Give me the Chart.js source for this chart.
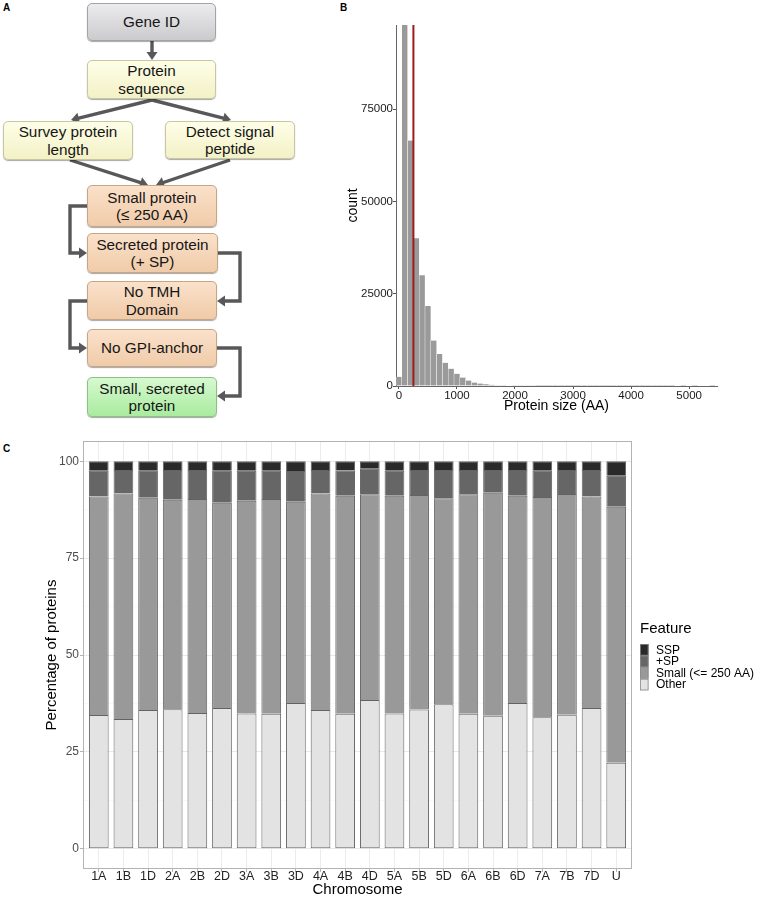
<!DOCTYPE html>
<html>
<head>
<meta charset="utf-8">
<script src="https://cdn.jsdelivr.net/npm/chart.js@4.4.1/dist/chart.umd.min.js"></script>
<style>
  body { margin: 0; background: #fff; font-family: "Liberation Sans", Arial, sans-serif; }
  #page { position: relative; width: 758px; height: 897px; overflow: hidden; }
  .tag { position: absolute; font-weight: bold; font-size: 10px; color: #000; }
  .box {
    position: absolute; box-sizing: border-box; border-radius: 5px; border: 1px solid;
    display: flex; align-items: center; justify-content: center; text-align: center;
    font-size: 15.3px; line-height: 17.5px; color: #161616;
    box-shadow: 0 1px 1px rgba(0,0,0,0.35);
  }
  .gray   { background: linear-gradient(#ececee, #cbcbce); border-color: #a3a3a6; }
  .yellow { background: linear-gradient(#fefee8, #f3f1c6); border-color: #c9c6a0; }
  .peach  { background: linear-gradient(#fae1ca, #f0cba9); border-color: #c7a688; }
  .green  { background: linear-gradient(#d6f9cf, #a9eb9f); border-color: #8fbe87; }
  canvas { position: absolute; }
</style>
</head>
<body>
<div id="page">
  <div class="tag" style="left:3px;top:2px">A</div>
  <div class="tag" style="left:340px;top:2px">B</div>
  <div class="tag" style="left:3px;top:443px">C</div>
  <svg id="arrows" width="300" height="430" style="position:absolute;left:0;top:0"></svg>
  <div id="flow"></div>
  <canvas id="histChart" width="418" height="420" style="left:340px;top:0"></canvas>
  <canvas id="featChart" width="758" height="467" style="left:0;top:430px"></canvas>
</div>
<script>
// ---- panel B: protein size histogram ----
var BIN_WIDTH = 100;
var CUTOFF_AA = 250;
var binCounts = [2500, 112000, 66500, 40000, 30000, 21700, 12300, 8700, 6300, 4700,
                 3300, 2300, 1500, 950, 650, 450, 320, 230, 170, 120,
                 90, 70, 50, 40, 30, 25, 20, 16, 13, 10,
                 8, 7, 6, 5, 4, 4, 3, 3, 2, 2,
                 2, 2, 1, 1, 1, 1, 1, 1, 0, 1,
                 0, 1, 0, 0, 1];
var sizeTicks = [0, 1000, 2000, 3000, 4000, 5000];
var countTicks = [0, 25000, 50000, 75000];

// ---- panel C: features per chromosome (%) ----
var chromosomes = ['1A','1B','1D','2A','2B','2D','3A','3B','3D','4A','4B','4D',
                   '5A','5B','5D','6A','6B','6D','7A','7B','7D','U'];
var otherPct = [34.5,33.5,35.8,36.0,35.0,36.3,34.9,34.8,37.6,35.8,34.8,38.4,
                34.9,35.9,37.3,34.8,34.3,37.6,33.9,34.6,36.3,22.2];
var smallPct = [56.4,58.2,54.8,54.1,55.3,53.0,54.9,55.5,52.0,55.9,56.3,53.1,
                56.2,55.4,53.2,56.7,57.6,53.5,56.9,57.0,54.6,66.1];
var plusSpPct = [6.7,6.1,7.0,7.7,7.5,8.3,7.8,7.3,7.9,6.1,6.6,6.6,
                 6.5,6.5,7.3,6.3,5.9,6.7,6.8,6.2,6.9,8.0];
var sspPct = [2.4,2.2,2.4,2.2,2.2,2.4,2.4,2.4,2.5,2.2,2.3,1.9,
              2.4,2.2,2.2,2.2,2.2,2.2,2.4,2.2,2.2,3.7];
var pctTicks = [0, 12.5, 25, 37.5, 50, 62.5, 75, 87.5, 100];

// ---- panel A: flowchart ----
var boxes = [
  { text: 'Gene ID', cls: 'gray', x: 87, y: 3, w: 129, h: 38 },
  { text: 'Protein<br>sequence', cls: 'yellow', x: 87, y: 60, w: 129, h: 39 },
  { text: 'Survey protein<br>length', cls: 'yellow', x: 3, y: 121, w: 130, h: 39 },
  { text: 'Detect signal<br>peptide', cls: 'yellow', x: 165, y: 121, w: 130, h: 38 },
  { text: 'Small protein<br>(\u2264 250 AA)', cls: 'peach', x: 87, y: 185, w: 130, h: 42 },
  { text: 'Secreted protein<br>(+ SP)', cls: 'peach', x: 87, y: 233, w: 131, h: 40 },
  { text: 'No TMH<br>Domain', cls: 'peach', x: 87, y: 281, w: 130, h: 39 },
  { text: 'No GPI-anchor', cls: 'peach', x: 87, y: 329, w: 130, h: 38 },
  { text: 'Small, secreted<br>protein', cls: 'green', x: 87, y: 377, w: 130, h: 40 }
];
var links = [
  [[152, 41], [152, 60]],
  [[152, 100], [71, 120]],
  [[152, 100], [231, 120]],
  [[70, 160], [148, 185]],
  [[230, 160], [156, 185]],
  [[87, 206], [70, 206], [70, 253], [87, 253]],
  [[218, 253], [240, 253], [240, 301], [217, 301]],
  [[87, 301], [70, 301], [70, 348], [87, 348]],
  [[217, 348], [240, 348], [240, 396], [217, 396]]
];

var flow = document.getElementById('flow');
boxes.forEach(function (b) {
  var d = document.createElement('div');
  d.className = 'box ' + b.cls;
  d.style.left = b.x + 'px'; d.style.top = b.y + 'px';
  d.style.width = b.w + 'px'; d.style.height = b.h + 'px';
  d.innerHTML = b.text;
  flow.appendChild(d);
});

var svg = document.getElementById('arrows');
var NS = 'http://www.w3.org/2000/svg';
var ARROW = '#58585a';
links.forEach(function (pts) {
  var n = pts.length;
  var tip = pts[n - 1], prev = pts[n - 2];
  var dx = tip[0] - prev[0], dy = tip[1] - prev[1];
  var len = Math.sqrt(dx * dx + dy * dy);
  var ux = dx / len, uy = dy / len;
  var headLen = 8, headHalf = 5.5;
  var base = [tip[0] - ux * headLen, tip[1] - uy * headLen];
  var line = pts.slice(0, n - 1).concat([[base[0] + ux, base[1] + uy]]);
  var pl = document.createElementNS(NS, 'polyline');
  pl.setAttribute('points', line.map(function (p) { return p.join(','); }).join(' '));
  pl.setAttribute('fill', 'none');
  pl.setAttribute('stroke', ARROW);
  pl.setAttribute('stroke-width', '3.4');
  pl.setAttribute('stroke-linejoin', 'miter');
  svg.appendChild(pl);
  var head = document.createElementNS(NS, 'polygon');
  head.setAttribute('points', [
    tip,
    [base[0] - uy * headHalf, base[1] + ux * headHalf],
    [base[0] + uy * headHalf, base[1] - ux * headHalf]
  ].map(function (p) { return p.join(','); }).join(' '));
  head.setAttribute('fill', ARROW);
  svg.appendChild(head);
});

// ---- chart B ----
var histPoints = binCounts.map(function (c, i) { return { x: i * BIN_WIDTH, y: c }; });

var cutoffLine = {
  id: 'cutoffLine',
  afterDatasetsDraw: function (chart) {
    var ctx = chart.ctx, a = chart.chartArea;
    var x = chart.scales.x.getPixelForValue(CUTOFF_AA);
    ctx.save();
    ctx.strokeStyle = '#9e1b1b';
    ctx.lineWidth = 2;
    ctx.beginPath();
    ctx.moveTo(x, a.top);
    ctx.lineTo(x, a.bottom);
    ctx.stroke();
    ctx.restore();
  }
};

new Chart(document.getElementById('histChart'), {
  type: 'bar',
  data: {
    datasets: [{
      data: histPoints,
      backgroundColor: '#9a9a9a',
      borderColor: 'rgba(255,255,255,0.85)',
      borderWidth: { left: 0.5, right: 0.5, top: 0, bottom: 0 },
      barPercentage: 1,
      categoryPercentage: 1
    }]
  },
  options: {
    responsive: false,
    animation: false,
    devicePixelRatio: 1,
    layout: { padding: { top: 25, right: 41, left: 0, bottom: 0 } },
    plugins: { legend: { display: false }, tooltip: { enabled: false } },
    scales: {
      x: {
        type: 'linear', min: -50, max: 5480, offset: false,
        afterBuildTicks: function (s) { s.ticks = sizeTicks.map(function (v) { return { value: v }; }); },
        afterFit: function (s) { s.height = 34; },
        grid: { drawOnChartArea: false, offset: false, tickLength: 3, color: '#555' },
        border: { display: true, color: '#666', width: 1 },
        ticks: { color: '#1a1a1a', font: { size: 11.5, family: 'Liberation Sans' }, padding: 0, maxRotation: 0,
                 autoSkip: false, callback: function (v) { return String(v); } },
        title: { display: true, text: 'Protein size (AA)', color: '#000',
                 font: { size: 14, family: 'Liberation Sans' }, padding: { top: 0, bottom: 5.6 } }
      },
      y: {
        min: 0, max: 97800,
        afterBuildTicks: function (s) { s.ticks = countTicks.map(function (v) { return { value: v }; }); },
        afterFit: function (s) { s.width = 56; },
        grid: { drawOnChartArea: false, tickLength: 3, color: '#555' },
        border: { display: true, color: '#666', width: 1 },
        ticks: { color: '#1a1a1a', font: { size: 11.5, family: 'Liberation Sans' }, padding: 0,
                 callback: function (v) { return String(v); } },
        title: { display: true, text: 'count', color: '#000',
                 font: { size: 14, family: 'Liberation Sans' }, padding: { top: 4.6, bottom: 0 } }
      }
    }
  },
  plugins: [cutoffLine]
});

// ---- chart C ----
function pts(arr) { return arr.map(function (v, i) { return { x: i, y: v }; }); }

var panelAndLegend = {
  id: 'panelAndLegend',
  afterDraw: function (chart) {
    var ctx = chart.ctx, a = chart.chartArea;
    ctx.save();
    ctx.strokeStyle = '#b3b3b3';
    ctx.lineWidth = 1;
    ctx.strokeRect(a.left - 0.5, a.top - 0.5, a.right - a.left + 1, a.bottom - a.top + 1);
    // legend, top entry first
    var lx = 640, ly = 214, kw = 8.5, kh = 11.6;
    ctx.fillStyle = '#000';
    ctx.font = '15px "Liberation Sans"';
    ctx.textBaseline = 'middle';
    ctx.fillText('Feature', lx, 199);
    ctx.font = '12px "Liberation Sans"';
    var ds = chart.data.datasets.slice().reverse();
    ds.forEach(function (d, i) {
      var y = ly + i * kh;
      ctx.fillStyle = d.backgroundColor;
      ctx.fillRect(lx, y, kw, kh);
      ctx.strokeStyle = '#8a8a8a';
      ctx.lineWidth = 0.8;
      ctx.strokeRect(lx + 0.4, y + 0.4, kw - 0.8, kh - 0.8);
      ctx.fillStyle = '#000';
      ctx.fillText(d.label, lx + 16, y + kh / 2 + 0.5);
    });
    ctx.restore();
  }
};

// bottom segment gets a full outline, the stacked ones skip their bottom edge
var barStyle = { borderColor: '#636363', borderWidth: 1, barPercentage: 0.8, categoryPercentage: 1 };

new Chart(document.getElementById('featChart'), {
  type: 'bar',
  data: {
    datasets: [
      Object.assign({ label: 'Other', data: pts(otherPct), backgroundColor: '#e3e3e3', borderSkipped: false }, barStyle),
      Object.assign({ label: 'Small (<= 250 AA)', data: pts(smallPct), backgroundColor: '#999999' }, barStyle),
      Object.assign({ label: '+SP', data: pts(plusSpPct), backgroundColor: '#666666' }, barStyle),
      Object.assign({ label: 'SSP', data: pts(sspPct), backgroundColor: '#2a2a2a' }, barStyle)
    ]
  },
  options: {
    responsive: false,
    animation: false,
    devicePixelRatio: 1,
    layout: { padding: { top: 12, right: 127, left: 0, bottom: 0 } },
    plugins: { legend: { display: false }, tooltip: { enabled: false } },
    scales: {
      x: {
        type: 'linear', stacked: true, min: -0.6, max: chromosomes.length - 0.4, offset: false,
        afterBuildTicks: function (s) { s.ticks = chromosomes.map(function (c, i) { return { value: i }; }); },
        afterFit: function (s) { s.height = 29; },
        grid: { color: '#ececec', lineWidth: 1, offset: false, tickLength: 4, tickColor: '#b3b3b3' },
        border: { display: false },
        ticks: { color: '#222', font: { size: 12.5, family: 'Liberation Sans', lineHeight: 1 }, padding: -2,
                 maxRotation: 0, autoSkip: false, callback: function (v) { return chromosomes[v]; } },
        title: { display: true, text: 'Chromosome', color: '#000',
                 font: { size: 15, family: 'Liberation Sans', lineHeight: 1 }, padding: { top: 0, bottom: 0 } }
      },
      y: {
        stacked: true, min: -5, max: 105,
        afterBuildTicks: function (s) { s.ticks = pctTicks.map(function (v) { return { value: v }; }); },
        afterFit: function (s) { s.width = 84; },
        grid: {
          color: function (c) { return c.tick && c.tick.value % 25 === 0 ? '#e9e9e9' : '#f5f5f5'; },
          lineWidth: function (c) { return c.tick && c.tick.value % 25 === 0 ? 1 : 0.6; },
          tickColor: function (c) { return c.tick && c.tick.value % 25 === 0 ? '#b3b3b3' : 'rgba(0,0,0,0)'; },
          tickLength: 4
        },
        border: { display: false },
        ticks: { color: '#4d4d4d', font: { size: 12, family: 'Liberation Sans' }, padding: 1,
                 callback: function (v) { return v % 25 === 0 ? String(v) : ''; } },
        title: { display: true, text: 'Percentage of proteins', color: '#000',
                 font: { size: 15, family: 'Liberation Sans', lineHeight: 1.2 }, padding: { top: 43, bottom: 0 } }
      }
    }
  },
  plugins: [panelAndLegend]
});
</script>
</body>
</html>
